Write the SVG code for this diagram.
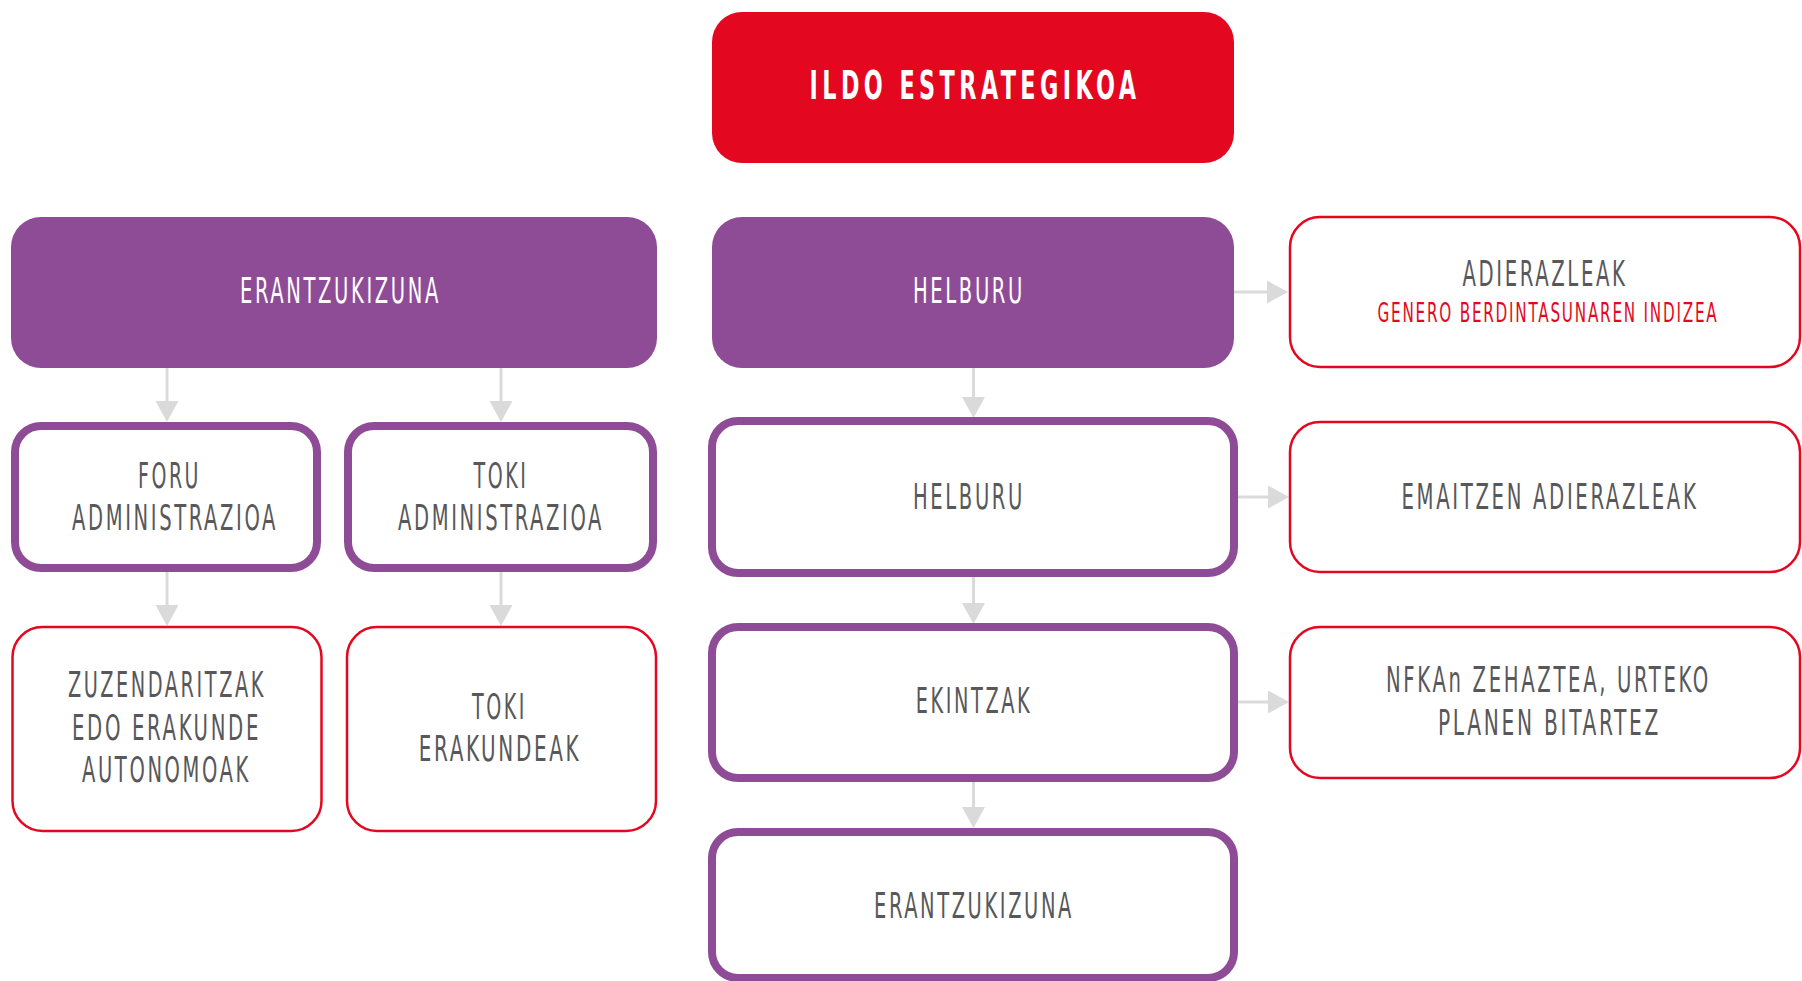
<svg xmlns="http://www.w3.org/2000/svg" width="1802" height="981" viewBox="0 0 1802 981">
<defs>
<style>
.fillred{fill:#e30820}
.fillpur{fill:#8f4c96}
.outpur{fill:#ffffff;stroke:#8f4c96;stroke-width:8}
.outred{fill:#ffffff;stroke:#e30820;stroke-width:2.5}
.conn{stroke:#dadada;stroke-width:3;fill:none}
text{font-family:"Liberation Sans Narrow","DejaVu Sans Condensed","Liberation Sans",sans-serif;text-anchor:middle;letter-spacing:3px}
.tw{fill:#ffffff;font-size:25px}
.tg{fill:#58585a;font-size:25px}
.tr{fill:#e30820;font-size:19px;letter-spacing:2px}
.tt{fill:#ffffff;font-size:39px;font-weight:bold;letter-spacing:7px}
</style>
<marker id="ah" markerUnits="userSpaceOnUse" markerWidth="22" markerHeight="24" refX="0" refY="11.5" orient="auto" viewBox="0 0 22 24">
<path d="M0,0 L21,11.5 L0,23 Z" fill="#dadada"/>
</marker>
</defs>
<rect width="1802" height="981" fill="#ffffff"/>

<g id="connectors">
<path class="conn" d="M167,368 V401" marker-end="url(#ah)"/>
<path class="conn" d="M501,368 V401" marker-end="url(#ah)"/>
<path class="conn" d="M167,572 V605" marker-end="url(#ah)"/>
<path class="conn" d="M501,572 V605" marker-end="url(#ah)"/>
<path class="conn" d="M973.5,368 V397" marker-end="url(#ah)"/>
<path class="conn" d="M973.5,577 V603" marker-end="url(#ah)"/>
<path class="conn" d="M973.5,782 V807" marker-end="url(#ah)"/>
<path class="conn" d="M1234,292 H1267" marker-end="url(#ah)"/>
<path class="conn" d="M1238,497 H1268" marker-end="url(#ah)"/>
<path class="conn" d="M1238,702 H1268" marker-end="url(#ah)"/>
</g>

<g id="ildo">
<rect class="fillred" x="712" y="12" width="522" height="151" rx="30"/>
<text class="tt" x="975" y="99" textLength="331" lengthAdjust="spacingAndGlyphs">ILDO ESTRATEGIKOA</text>
</g>

<g id="erantzukizuna-top">
<rect class="fillpur" x="11" y="217" width="646" height="151" rx="30"/>
<text class="tw" transform="translate(340.5,303) scale(1,1.4)" textLength="201" lengthAdjust="spacingAndGlyphs">ERANTZUKIZUNA</text>
</g>

<g id="helburu-top">
<rect class="fillpur" x="712" y="217" width="522" height="151" rx="30"/>
<text class="tw" transform="translate(969,303) scale(1,1.4)" textLength="112" lengthAdjust="spacingAndGlyphs">HELBURU</text>
</g>

<g id="adierazleak">
<rect class="outred" x="1290" y="217" width="510" height="150" rx="30"/>
<text class="tg" transform="translate(1545,286) scale(1,1.4)" textLength="165" lengthAdjust="spacingAndGlyphs">ADIERAZLEAK</text>
<text class="tr" transform="translate(1548,322) scale(1,1.395)" textLength="341" lengthAdjust="spacingAndGlyphs">GENERO BERDINTASUNAREN INDIZEA</text>
</g>

<g id="foru">
<rect class="outpur" x="15" y="426" width="302" height="142" rx="26"/>
<text class="tg" transform="translate(169.5,488) scale(1,1.4)" textLength="63" lengthAdjust="spacingAndGlyphs">FORU</text>
<text class="tg" transform="translate(175,530) scale(1,1.4)" textLength="206" lengthAdjust="spacingAndGlyphs">ADMINISTRAZIOA</text>
</g>

<g id="toki-admin">
<rect class="outpur" x="348" y="426" width="305" height="142" rx="26"/>
<text class="tg" transform="translate(501,488) scale(1,1.4)" textLength="55" lengthAdjust="spacingAndGlyphs">TOKI</text>
<text class="tg" transform="translate(501,530) scale(1,1.4)" textLength="206" lengthAdjust="spacingAndGlyphs">ADMINISTRAZIOA</text>
</g>

<g id="helburu-mid">
<rect class="outpur" x="712" y="421" width="522" height="152" rx="26"/>
<text class="tg" transform="translate(969,509) scale(1,1.4)" textLength="112" lengthAdjust="spacingAndGlyphs">HELBURU</text>
</g>

<g id="emaitzen">
<rect class="outred" x="1290" y="422" width="510" height="150" rx="30"/>
<text class="tg" transform="translate(1550,509) scale(1,1.4)" textLength="297" lengthAdjust="spacingAndGlyphs">EMAITZEN ADIERAZLEAK</text>
</g>

<g id="zuzendaritzak">
<rect class="outred" x="12.5" y="627" width="309" height="204" rx="30"/>
<text class="tg" transform="translate(167,697) scale(1,1.4)" textLength="198" lengthAdjust="spacingAndGlyphs">ZUZENDARITZAK</text>
<text class="tg" transform="translate(166.5,740) scale(1,1.4)" textLength="189" lengthAdjust="spacingAndGlyphs">EDO ERAKUNDE</text>
<text class="tg" transform="translate(166.5,782) scale(1,1.4)" textLength="169" lengthAdjust="spacingAndGlyphs">AUTONOMOAK</text>
</g>

<g id="toki-erakundeak">
<rect class="outred" x="347" y="627" width="309" height="204" rx="30"/>
<text class="tg" transform="translate(499.5,719) scale(1,1.4)" textLength="55" lengthAdjust="spacingAndGlyphs">TOKI</text>
<text class="tg" transform="translate(500,761) scale(1,1.4)" textLength="162.5" lengthAdjust="spacingAndGlyphs">ERAKUNDEAK</text>
</g>

<g id="ekintzak">
<rect class="outpur" x="712" y="627" width="522" height="151" rx="26"/>
<text class="tg" transform="translate(974,713) scale(1,1.4)" textLength="116.5" lengthAdjust="spacingAndGlyphs">EKINTZAK</text>
</g>

<g id="nfkan">
<rect class="outred" x="1290" y="627" width="510" height="151" rx="30"/>
<text class="tg" transform="translate(1548.5,692) scale(1,1.4)" textLength="325" lengthAdjust="spacingAndGlyphs">NFKAn ZEHAZTEA, URTEKO</text>
<text class="tg" transform="translate(1549.5,735) scale(1,1.4)" textLength="223" lengthAdjust="spacingAndGlyphs">PLANEN BITARTEZ</text>
</g>

<g id="erantzukizuna-bottom">
<rect class="outpur" x="712" y="832" width="522" height="146" rx="26"/>
<text class="tg" transform="translate(974,918) scale(1,1.4)" textLength="200" lengthAdjust="spacingAndGlyphs">ERANTZUKIZUNA</text>
</g>
</svg>
